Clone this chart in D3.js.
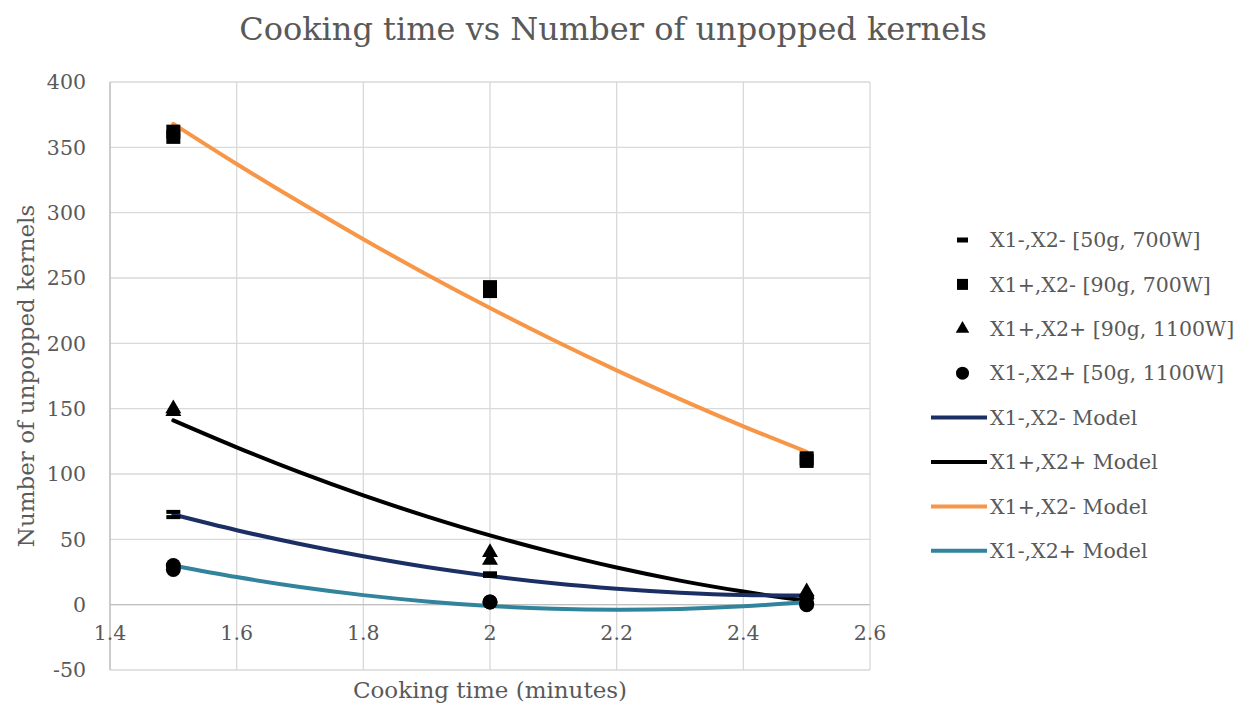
<!DOCTYPE html>
<html>
<head>
<meta charset="utf-8">
<script src="https://cdn.jsdelivr.net/npm/d3@7"></script>
<style>
  body { margin: 0; background: #fff; }
  svg text { font-family: "DejaVu Serif", serif; fill: #595959; }
</style>
</head>
<body>
<div id="chart"></div>
<script>
// cooking times where the kernels were counted
var times = [1.5, 2, 2.5];

// measured counts, two replicates per run
var dash_obs = [[67, 71], [22, 24], [5, 6]];          // X1-,X2- [50g, 700W]
var square_obs = [[358, 362], [240, 243], [110, 112]]; // X1+,X2- [90g, 700W]
var triangle_obs = [[148, 150], [34, 40], [8, 10]];    // X1+,X2+ [90g, 1100W]
var circle_obs = [[27, 30], [2, 2], [0, 1]];           // X1-,X2+ [50g, 1100W]

// model curves, every 0.1 min
var model_times = [1.5, 1.6, 1.7, 1.8, 1.9, 2.0, 2.1, 2.2, 2.3, 2.4, 2.5];
var model_navy = [69, 57, 46.4, 37, 28.8, 22, 16.4, 12.2, 9.2, 7.4, 7];
var model_black = [141, 120.4, 101.2, 83.6, 67.6, 53, 40, 28.4, 18.4, 10, 3];
var model_orange = [368, 337.3, 307.9, 279.7, 252.7, 227, 202.5, 179.3, 157.3, 136.5, 117];
var model_teal = [30, 21.1, 13.5, 7.3, 2.5, -1, -3.1, -3.9, -3.3, -1.3, 2];

var x_ticks = [1.4, 1.6, 1.8, 2, 2.2, 2.4, 2.6];
var y_ticks = [-50, 0, 50, 100, 150, 200, 250, 300, 350, 400];

var width = 1239, height = 709;
var margin = {top: 82, right: 369, bottom: 39, left: 110};

var svg = d3.select("#chart").append("svg")
    .attr("width", width)
    .attr("height", height);

var x = d3.scaleLinear().domain([1.4, 2.6]).range([margin.left, width - margin.right]);
var y = d3.scaleLinear().domain([-50, 400]).range([height - margin.bottom, margin.top]);

//Gridlines
svg.append("g")
    .selectAll("line")
    .data(y_ticks)
    .enter().append("line")
    .attr("x1", x(1.4)).attr("x2", x(2.6))
    .attr("y1", function(d) { return y(d); })
    .attr("y2", function(d) { return y(d); })
    .style("stroke", "#d9d9d9")
    .style("stroke-width", 1.3);

svg.append("g")
    .selectAll("line")
    .data(x_ticks)
    .enter().append("line")
    .attr("x1", function(d) { return x(d); })
    .attr("x2", function(d) { return x(d); })
    .attr("y1", y(400)).attr("y2", y(-50))
    .style("stroke", "#d9d9d9")
    .style("stroke-width", 1.3);

//Axis lines
svg.append("line")
    .attr("x1", x(1.4)).attr("x2", x(2.6))
    .attr("y1", y(0)).attr("y2", y(0))
    .style("stroke", "#bfbfbf").style("stroke-width", 1.3);
svg.append("line")
    .attr("x1", x(1.4)).attr("x2", x(1.4))
    .attr("y1", y(400)).attr("y2", y(-50))
    .style("stroke", "#bfbfbf").style("stroke-width", 1.3);

//Tick labels
var fmt = function(d) { return String(d); };
svg.append("g")
    .selectAll("text")
    .data(y_ticks)
    .enter().append("text")
    .attr("x", margin.left - 24)
    .attr("y", function(d) { return y(d); })
    .attr("dy", "0.35em")
    .attr("text-anchor", "end")
    .style("font-size", "20.5px")
    .text(fmt);

svg.append("g")
    .selectAll("text")
    .data(x_ticks)
    .enter().append("text")
    .attr("x", function(d) { return x(d); })
    .attr("y", y(0) + 28)
    .attr("dy", "0.35em")
    .attr("text-anchor", "middle")
    .style("font-size", "20.5px")
    .text(fmt);

//Model lines
var line = d3.line()
    .x(function(d) { return x(d[0]); })
    .y(function(d) { return y(d[1]); })
    .curve(d3.curveCatmullRom);

var models = [
    {name: "X1-,X2- Model", values: model_navy, color: "#1c2f64"},
    {name: "X1+,X2+ Model", values: model_black, color: "#000000"},
    {name: "X1+,X2- Model", values: model_orange, color: "#f79646"},
    {name: "X1-,X2+ Model", values: model_teal, color: "#31849b"}
];

// draw back to front so the teal and navy sit on top like in the original
[models[2], models[1], models[3], models[0]].forEach(function(m) {
    svg.append("path")
        .datum(model_times.map(function(t, i) { return [t, m.values[i]]; }))
        .attr("d", line)
        .style("fill", "none")
        .style("stroke", m.color)
        .style("stroke-width", 4)
        .style("stroke-linecap", "round");
});

//Markers
var symbols = [
    {name: "X1-,X2- [50g, 700W]", obs: dash_obs, kind: "dash"},
    {name: "X1+,X2- [90g, 700W]", obs: square_obs, kind: "square"},
    {name: "X1+,X2+ [90g, 1100W]", obs: triangle_obs, kind: "triangle"},
    {name: "X1-,X2+ [50g, 1100W]", obs: circle_obs, kind: "circle"}
];

function draw_marker(g, kind, cx, cy) {
    if (kind === "dash") {
        g.append("rect").attr("x", cx - 7).attr("y", cy - 2)
            .attr("width", 14).attr("height", 4).style("fill", "#000");
    } else if (kind === "square") {
        g.append("rect").attr("x", cx - 7).attr("y", cy - 7)
            .attr("width", 14).attr("height", 14).style("fill", "#000");
    } else if (kind === "triangle") {
        g.append("path")
            .attr("d", d3.symbol().type(d3.symbolTriangle).size(110)())
            .attr("transform", "translate(" + cx + "," + cy + ")")
            .style("fill", "#000");
    } else {
        g.append("circle").attr("cx", cx).attr("cy", cy).attr("r", 7.5)
            .style("fill", "#000");
    }
}

var marks = svg.append("g");
symbols.forEach(function(s) {
    s.obs.forEach(function(pair, i) {
        pair.forEach(function(v) {
            draw_marker(marks, s.kind, x(times[i]), y(v));
        });
    });
});

//Legend
var legend_top = 240, legend_step = 44.4;
symbols.forEach(function(s, i) {
    var ly = legend_top + i * legend_step;
    if (s.kind === "dash") {
        svg.append("rect").attr("x", 957).attr("y", ly - 2.5)
            .attr("width", 11).attr("height", 5).style("fill", "#000");
    } else if (s.kind === "square") {
        svg.append("rect").attr("x", 957).attr("y", ly - 5.5)
            .attr("width", 11).attr("height", 11).style("fill", "#000");
    } else if (s.kind === "triangle") {
        svg.append("path")
            .attr("d", d3.symbol().type(d3.symbolTriangle).size(80)())
            .attr("transform", "translate(962.5," + ly + ")")
            .style("fill", "#000");
    } else {
        svg.append("circle").attr("cx", 962.5).attr("cy", ly).attr("r", 6.5)
            .style("fill", "#000");
    }
    svg.append("text")
        .attr("x", 990)
        .attr("y", ly)
        .attr("dy", "0.35em")
        .style("font-size", "20.5px")
        .text(s.name);
});
models.forEach(function(m, i) {
    var ly = legend_top + (i + 4) * legend_step;
    svg.append("line")
        .attr("x1", 931).attr("x2", 987)
        .attr("y1", ly).attr("y2", ly)
        .style("stroke", m.color)
        .style("stroke-width", 4);
    svg.append("text")
        .attr("x", 990)
        .attr("y", ly)
        .attr("dy", "0.35em")
        .style("font-size", "20.5px")
        .text(m.name);
});

//Title
svg.append("text")
    .attr("x", 613)
    .attr("y", 29)
    .attr("dy", "0.35em")
    .attr("text-anchor", "middle")
    .style("font-size", "32px")
    .text("Cooking time vs Number of unpopped kernels");

//X-axis label
svg.append("text")
    .attr("x", x(2))
    .attr("y", 690)
    .attr("dy", "0.35em")
    .attr("text-anchor", "middle")
    .style("font-size", "23px")
    .text("Cooking time (minutes)");

//Y-axis label
svg.append("text")
    .attr("transform", "translate(26," + y(175) + ") rotate(-90)")
    .attr("dy", "0.35em")
    .attr("text-anchor", "middle")
    .style("font-size", "23px")
    .text("Number of unpopped kernels");
</script>
</body>
</html>
